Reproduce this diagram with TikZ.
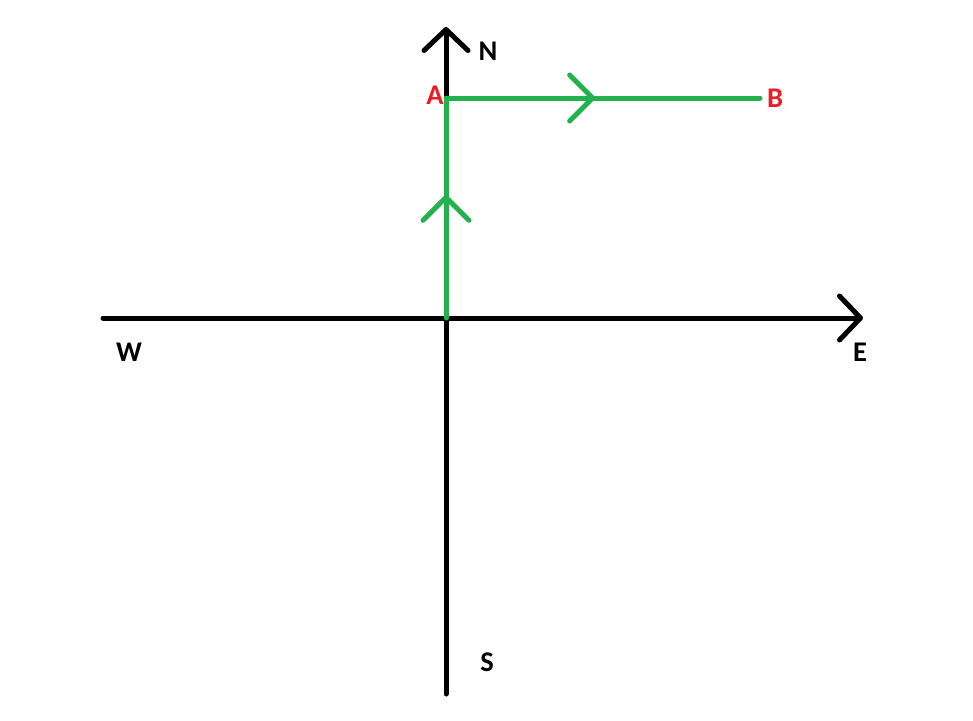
\documentclass[tikz,border=0pt]{standalone}
\usepackage{fontspec}
\setmainfont{Carlito}
\usetikzlibrary{arrows.meta,decorations.markings}
\definecolor{routegreen}{RGB}{34,177,76}
\definecolor{pointred}{RGB}{237,28,36}
\begin{document}
\begin{tikzpicture}[x=1pt,y=-1pt,
  axis/.style = {line width=5pt, line cap=round,
    -{Straight Barb[length=21pt,width=44pt,round]}},
  route/.style = {line width=5pt, routegreen, line cap=round},
  midarrow/.style = {postaction={decorate},
    decoration={markings, mark=at position #1 with
      {\arrow{Straight Barb[length=23pt,width=46pt,round]}}}},
  dirlabel/.style = {font=\fontsize{28.5}{31}\selectfont\bfseries, inner sep=0pt},
  pointlabel/.style = {dirlabel, text=pointred}]
\useasboundingbox (0,0) rectangle (973,720);
% axes
\coordinate (origin) at (446,318);
\coordinate (north) at (446,27);
\coordinate (south) at (446,694);
\coordinate (west) at (103,318);
\coordinate (east) at (863,318);
\draw[axis] (west) -- (east);
\draw[axis] (south) -- (north);
% route O -> A -> B
\coordinate (A) at (446,98);
\coordinate (B) at (760,98);
\draw[route, midarrow=0.56] (origin) -- (A);
\draw[route, midarrow=0.475] (A) -- (B);
% labels
\node[dirlabel] (N) at (488,51) {N};
\node[dirlabel] (S) at (487,662) {S};
\node[dirlabel] (E) at (860,352) {E};
\node[dirlabel] (W) at (129,352) {W};
\node[pointlabel] (Alabel) at (435,95) {A};
\node[pointlabel] (Blabel) at (775,98) {B};
\end{tikzpicture}
\end{document}
